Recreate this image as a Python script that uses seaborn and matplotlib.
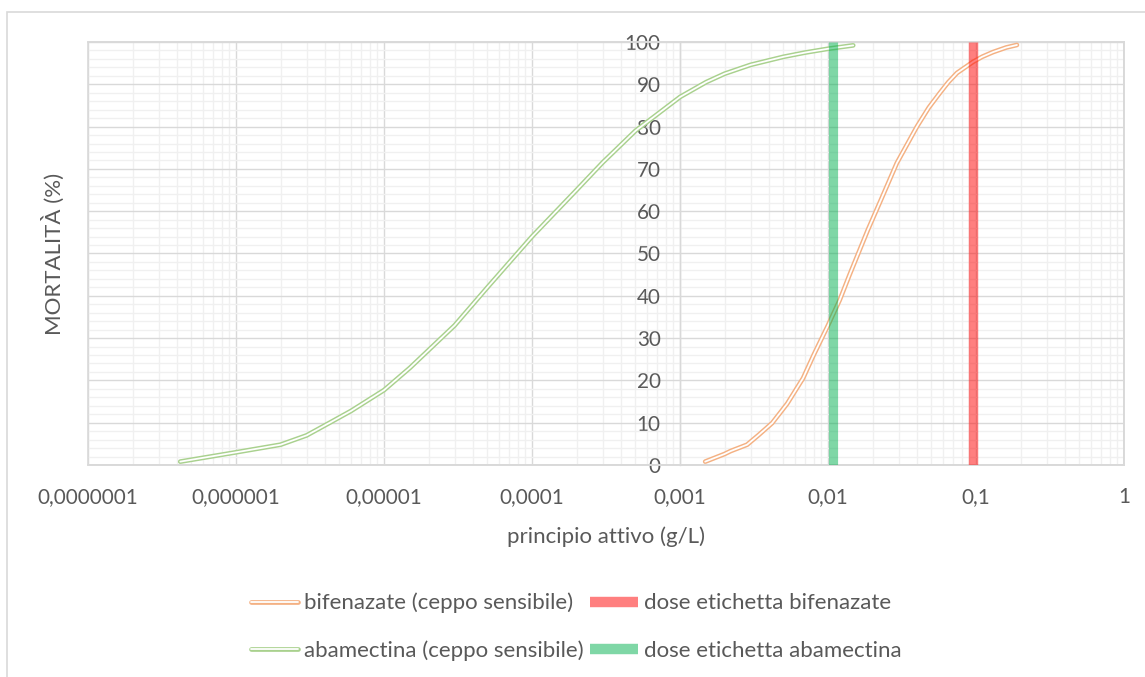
import numpy as np
import pandas as pd
import matplotlib
matplotlib.use("Agg")
import matplotlib.pyplot as plt
import seaborn as sns
from matplotlib.lines import Line2D
from matplotlib.patches import Rectangle
from matplotlib.legend_handler import HandlerTuple
from matplotlib.ticker import FixedLocator, LogLocator, MultipleLocator, NullFormatter

# Concentrazione (g/L) e mortalità (%) - curve dose-risposta
bif_conc = [0.00148, 0.00200, 0.00220, 0.00284, 0.00340, 0.00419, 0.00530, 0.00678,
            0.00800, 0.0100, 0.0120, 0.0140, 0.0186, 0.0230, 0.0292, 0.0399,
            0.0480, 0.0571, 0.0650, 0.0745, 0.0955, 0.110, 0.130, 0.160, 0.189]
bif_mort = [0.8, 2.6, 3.3, 4.8, 7.1, 9.9, 14.5, 20.5,
            26.0, 33.0, 39.0, 45.0, 55.6, 63.0, 71.4, 80.0,
            84.5, 88.0, 90.5, 92.7, 95.3, 96.5, 97.6, 98.7, 99.3]

aba_conc = [4.2e-7, 1.0e-6, 2.0e-6, 3.0e-6, 4.3e-6, 6.0e-6, 1.0e-5, 1.5e-5,
            3.0e-5, 5.0e-5, 1.0e-4, 2.0e-4, 3.0e-4, 5.0e-4, 1.0e-3, 1.5e-3,
            2.0e-3, 3.0e-3, 5.0e-3, 7.0e-3, 1.0e-2, 1.48e-2]
aba_mort = [0.8, 3.0, 4.8, 7.0, 10.0, 12.8, 17.7, 23.0,
            33.0, 42.0, 54.0, 65.0, 71.5, 79.0, 87.0, 90.5,
            92.5, 94.6, 96.5, 97.5, 98.4, 99.2]

# Dosi di etichetta (g/L)
dose_bif = 0.0955
dose_aba = 0.0108

x_ticks = [1e-7, 1e-6, 1e-5, 1e-4, 1e-3, 1e-2, 1e-1, 1]
x_tick_labels = ["0,0000001", "0,000001", "0,00001", "0,0001", "0,001", "0,01", "0,1", "1"]
y_ticks = [0, 10, 20, 30, 40, 50, 60, 70, 80, 90, 100]

series_labels = ["bifenazate (ceppo sensibile)", "abamectina (ceppo sensibile)"]
dose_labels = ["dose etichetta bifenazate", "dose etichetta abamectina"]

sns.set_theme(style="white")
plt.rcParams["font.family"] = ["Lato", "DejaVu Sans"]

TXT = "#595959"
ORANGE = "#F4B183"
GREEN = "#A9D18E"
RED_BAR = (1.0, 0.0, 0.0, 0.5)
GREEN_BAR = (0.0, 0.69, 0.31, 0.5)
FS_TICK = 14.9
FS = 16.0

fig = plt.figure(figsize=(11.45, 6.77), dpi=100)
ax = fig.add_axes([88 / 1145, 1 - 465 / 677, 1036 / 1145, 423 / 677])

df_bif = pd.DataFrame({"conc": bif_conc, "mort": bif_mort})
df_aba = pd.DataFrame({"conc": aba_conc, "mort": aba_mort})

# Double-stroke lines: coloured outer stroke with a white core
for df, col in [(df_bif, ORANGE), (df_aba, GREEN)]:
    sns.lineplot(data=df, x="conc", y="mort", ax=ax, color=col, linewidth=3.4,
                 zorder=3, legend=False)
    sns.lineplot(data=df, x="conc", y="mort", ax=ax, color="white", linewidth=1.3,
                 zorder=3.1, legend=False)

# Label-dose bars spanning the whole mortality range
ax.plot([dose_aba, dose_aba], [0, 100], color=GREEN_BAR, linewidth=6.6,
        solid_capstyle="butt", zorder=4)
ax.plot([dose_bif, dose_bif], [0, 100], color=RED_BAR, linewidth=6.8,
        solid_capstyle="butt", zorder=4)

ax.set_xscale("log")
ax.set_xlim(1e-7, 1)
ax.set_ylim(0, 100)

ax.xaxis.set_major_locator(FixedLocator(x_ticks))
ax.set_xticklabels(x_tick_labels)
ax.xaxis.set_minor_locator(LogLocator(base=10, subs=np.arange(2, 10), numticks=100))
ax.xaxis.set_minor_formatter(NullFormatter())
ax.yaxis.set_major_locator(FixedLocator(y_ticks))
ax.yaxis.set_minor_locator(MultipleLocator(2))

ax.grid(which="major", color="#D9D9D9", linewidth=1.0, zorder=0)
ax.grid(which="minor", color="#F0F0F0", linewidth=1.0, zorder=0)
ax.set_axisbelow(True)

# Vertical axis crosses at 0.001
ax.spines["left"].set_position(("data", 1e-3))
ax.spines["left"].set_color("#D9D9D9")
ax.spines["left"].set_linewidth(1.0)
for s in ["top", "right", "bottom"]:
    ax.spines[s].set_color("#D9D9D9")
    ax.spines[s].set_linewidth(1.2)
ax.add_patch(Rectangle((0, 0), 1, 1, transform=ax.transAxes, fill=False,
                       edgecolor="#D9D9D9", linewidth=1.2, zorder=1, clip_on=False))

ax.tick_params(axis="both", which="both", length=0)
ax.tick_params(axis="x", pad=16, labelsize=FS_TICK, labelcolor=TXT)
ax.tick_params(axis="y", pad=14, labelsize=FS_TICK, labelcolor=TXT)

ax.set_xlabel("principio attivo (g/L)", fontsize=FS, color=TXT, labelpad=14)
ax.set_ylabel("MORTALITÀ (%)", fontsize=FS, color=TXT)
ax.yaxis.set_label_coords(-0.022, 0.5)

# Legend
h_bif = (Line2D([], [], color=ORANGE, linewidth=3.4), Line2D([], [], color="white", linewidth=1.3))
h_aba = (Line2D([], [], color=GREEN, linewidth=3.4), Line2D([], [], color="white", linewidth=1.3))
h_dbif = Line2D([], [], color=RED_BAR, linewidth=7.5, solid_capstyle="butt")
h_daba = Line2D([], [], color=GREEN_BAR, linewidth=7.5, solid_capstyle="butt")
leg = fig.legend([h_bif, h_aba, h_dbif, h_daba],
                 [series_labels[0], series_labels[1], dose_labels[0], dose_labels[1]],
                 handler_map={tuple: HandlerTuple(ndivide=1)},
                 ncol=2, loc="center", bbox_to_anchor=(576 / 1145, 1 - 627 / 677),
                 frameon=False, fontsize=FS, labelcolor=TXT,
                 handlelength=2.15, handletextpad=0.25, columnspacing=0.3,
                 labelspacing=1.22)

# Outer chart frame
fig.add_artist(Rectangle((7 / 1145, -1), 2, 1 + (1 - 12 / 677), transform=fig.transFigure,
                         fill=False, edgecolor="#D9D9D9", linewidth=1.2, clip_on=False))

fig.savefig("out.png", dpi=100)
